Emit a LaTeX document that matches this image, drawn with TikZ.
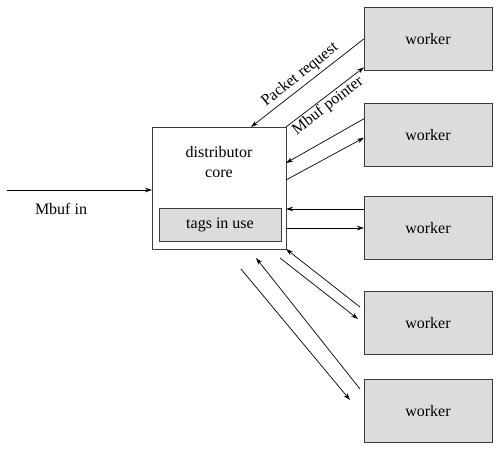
\documentclass[tikz,border=0pt]{standalone}
\usepackage{fontspec}
\setmainfont{Liberation Serif}
\newfontfamily\diagfont{Liberation Serif}
\usetikzlibrary{arrows.meta}
\definecolor{boxfill}{RGB}{220,220,220}
\definecolor{boxline}{RGB}{60,60,60}
\begin{document}
\begin{tikzpicture}[x=1pt,y=-1pt,
  font=\diagfont\fontsize{16}{20}\selectfont,
  every node/.style={inner sep=0pt,outer sep=0pt},
  corebox/.style={draw=boxline,line width=1pt,fill=white,minimum width=134pt,minimum height=122pt},
  graybox/.style={draw=boxline,line width=1pt,fill=boxfill},
  workerbox/.style={graybox,minimum width=128pt,minimum height=63pt},
  conn/.style={line width=0.7pt,-{Stealth[length=7pt,width=4.5pt]}},
  lbl/.style={align=center}
]
\useasboundingbox (0,0) rectangle (501,448);
\node[corebox] (core) at (219,188) {};
\node[lbl] (coretxt) at (219,162) {distributor\\core};
\node[graybox,minimum width=122pt,minimum height=33pt] (tags) at (220,224.5) {tags in use};
\node[workerbox] (w1) at (428,38.8) {worker};
\node[workerbox] (w2) at (428,134.7) {worker};
\node[workerbox] (w3) at (428,228) {worker};
\node[workerbox] (w4) at (428,323) {worker};
\node[workerbox] (w5) at (428,411) {worker};
\coordinate (mstart) at (7,190);
\draw[conn] (mstart) -- (mstart -| core.west);
\node (mlbl) at (61,209) {Mbuf in};
% worker 1
\draw[conn] (w1.west) -- ([xshift=32pt]core.north);
\draw[conn] (core.north east) -- ([yshift=3pt]w1.south west);
\node[rotate=38.5] (prl) at (300,75) {Packet request};
\node[rotate=37.7] (mpl) at (328,106) {Mbuf pointer};
% worker 2
\draw[conn] ([yshift=16pt]w2.west) -- ([yshift=25pt]core.east);
\draw[conn] ([yshift=8pt]core.east) -- ([yshift=-3pt]w2.west);
% worker 3
\draw[conn] ([yshift=19pt]w3.west) -- ([yshift=-21pt]core.east);
\draw[conn] ([yshift=-40pt]core.east) -- (core.east |- w3.west) -- (w3.west);
% worker 4
\draw[conn] ([xshift=-4pt,yshift=16pt]w4.west) -- (core.south east);
\draw[conn] ([xshift=-6pt,yshift=-9pt]core.south east) -- ([xshift=-6pt,yshift=4pt]w4.west);
% worker 5
\draw[conn] ([xshift=-4pt,yshift=22pt]w5.west) -- ([xshift=37pt,yshift=-9pt]core.south);
\draw[conn] ([xshift=22pt,yshift=-20pt]core.south) -- ([xshift=-14pt,yshift=11pt]w5.west);
\end{tikzpicture}
\end{document}
